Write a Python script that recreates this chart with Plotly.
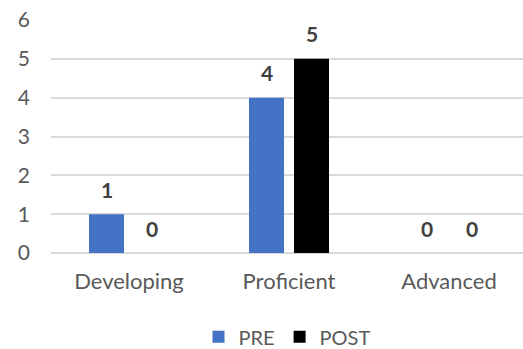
import plotly.graph_objects as go

categories = ["Developing", "Proficient", "Advanced"]
pre_values = [1, 4, 0]
post_values = [0, 5, 0]

FONT = "Lato"
TICK_COLOR = "#595959"
LABEL_COLOR = "#404040"
GRID_COLOR = "#d9d9d9"

fig = go.Figure()
fig.add_trace(go.Bar(
    name="PRE", x=categories, y=pre_values,
    marker=dict(color="#4472C4", line=dict(width=0)),
))
fig.add_trace(go.Bar(
    name="POST", x=categories, y=post_values,
    marker=dict(color="#000000", line=dict(width=0)),
))

# value labels above each bar, offset to sit over its bar within the group
for values, shift in ((pre_values, -22.5), (post_values, 22.5)):
    for cat, v in zip(categories, values):
        fig.add_annotation(
            x=cat, y=v, text=str(v), showarrow=False,
            xshift=shift, yshift=25, yanchor="middle",
            font=dict(family=FONT, size=21, color=LABEL_COLOR, weight="bold"),
        )

fig.update_layout(
    width=523, height=349,
    margin=dict(l=51, r=0, t=20, b=96, autoexpand=False),
    paper_bgcolor="white", plot_bgcolor="white",
    barmode="group", bargap=0.4375, bargroupgap=0.222,
    showlegend=True,
    legend=dict(
        orientation="h", x=0.5, xanchor="center",
        yref="container", y=0.035, yanchor="middle",
        font=dict(family=FONT, size=20, color=TICK_COLOR),
        itemsizing="constant", traceorder="normal",
    ),
)
fig.update_xaxes(
    range=[-0.4875, 2.4625],
    showgrid=False, zeroline=False, showline=False,
    ticks="", ticklabelstandoff=13,
    tickfont=dict(family=FONT, size=22, color=TICK_COLOR),
)
fig.update_yaxes(
    range=[0, 6], dtick=1,
    showgrid=True, gridcolor=GRID_COLOR, gridwidth=1.5,
    zeroline=True, zerolinecolor=GRID_COLOR, zerolinewidth=1.5,
    showline=False,
    ticks="", ticklabelstandoff=20,
    tickfont=dict(family=FONT, size=21, color=TICK_COLOR),
)

fig.write_html("out.html")
